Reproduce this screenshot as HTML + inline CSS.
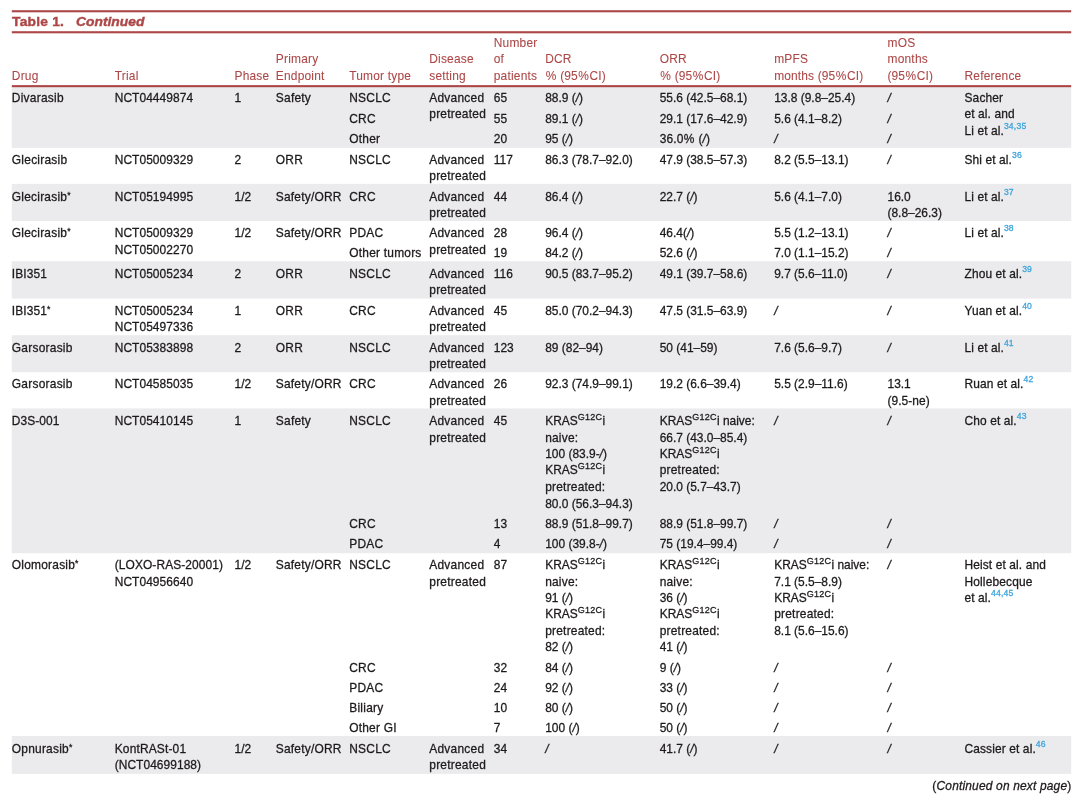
<!DOCTYPE html>
<html lang="en"><head><meta charset="utf-8"><title>Table 1. Continued</title>
<style>
html,body{margin:0;padding:0;background:#fff}
body{width:1080px;height:801px;position:relative;overflow:hidden;font-family:"Liberation Sans",sans-serif;font-size:11.95px;color:#1d1a1b}
svg{position:absolute;left:0;top:0}
.t{position:absolute;white-space:nowrap;line-height:16px;height:16px;-webkit-text-stroke:.28px}
.h{color:#ad4747;-webkit-text-stroke:.08px}
.p{margin:0 .45px}
.a{font-size:8.6px;position:relative;top:-3.3px;line-height:0}
sup{line-height:0;vertical-align:baseline;position:relative}
sup.g{font-size:9px;top:-4.6px;letter-spacing:.3px}
sup.r{font-size:8.6px;top:-5.8px;color:#3ba4dc;letter-spacing:.2px}
.ttl{font-size:13.4px;font-weight:bold;color:#ad4747;transform:scaleX(1.033);transform-origin:0 0;-webkit-text-stroke:.4px}
.ft{right:8.6px;letter-spacing:.18px}

</style></head><body>
<svg width="1080" height="801" viewBox="0 0 1080 801">
<rect x="11.80" y="86.80" width="1059.40" height="61.10" fill="#ebebed"/>
<rect x="11.80" y="183.90" width="1059.40" height="37.10" fill="#ebebed"/>
<rect x="11.80" y="261.20" width="1059.40" height="37.40" fill="#ebebed"/>
<rect x="11.80" y="335.20" width="1059.40" height="37.00" fill="#ebebed"/>
<rect x="11.80" y="408.40" width="1059.40" height="144.80" fill="#ebebed"/>
<rect x="11.80" y="736.00" width="1059.40" height="37.90" fill="#ebebed"/>
<rect x="11.80" y="10.20" width="1059.40" height="2.10" fill="#ad4747"/>
<rect x="11.80" y="31.20" width="1059.40" height="2.10" fill="#ad4747"/>
<rect x="11.80" y="85.10" width="1059.40" height="2.10" fill="#ad4747"/>
</svg>
<div class="t ttl" style="left:11.55px;top:14px;letter-spacing:.2px">Table 1.</div>
<div class="t ttl" style="left:76.45px;top:14px"><i>Continued</i></div>
<div class="t h" style="left:11.85px;top:68px;letter-spacing:0.21px">Drug</div>
<div class="t h" style="left:114.70px;top:68px;letter-spacing:0.21px">Trial</div>
<div class="t h" style="left:234.50px;top:68px;letter-spacing:0.21px">Phase</div>
<div class="t h" style="left:275.80px;top:51px;letter-spacing:0.21px">Primary</div>
<div class="t h" style="left:275.80px;top:68px;letter-spacing:0.21px">Endpoint</div>
<div class="t h" style="left:349.25px;top:68px;letter-spacing:0.19px">Tumor type</div>
<div class="t h" style="left:429.25px;top:51px;letter-spacing:0.21px">Disease</div>
<div class="t h" style="left:429.25px;top:68px;letter-spacing:0.21px">setting</div>
<div class="t h" style="left:493.75px;top:35px;letter-spacing:0.21px">Number</div>
<div class="t h" style="left:493.75px;top:51px;letter-spacing:0.21px">of</div>
<div class="t h" style="left:493.75px;top:68px;letter-spacing:0.21px">patients</div>
<div class="t h" style="left:545.20px;top:51px;letter-spacing:0.21px">DCR</div>
<div class="t h" style="left:545.20px;top:68px;letter-spacing:0.12px"><span class="p">%</span> (95<span class="p">%</span>CI)</div>
<div class="t h" style="left:659.70px;top:51px;letter-spacing:0.21px">ORR</div>
<div class="t h" style="left:659.70px;top:68px;letter-spacing:0.12px"><span class="p">%</span> (95<span class="p">%</span>CI)</div>
<div class="t h" style="left:774.20px;top:51px;letter-spacing:0.21px">mPFS</div>
<div class="t h" style="left:774.20px;top:68px;letter-spacing:0.15px">months (95<span class="p">%</span>CI)</div>
<div class="t h" style="left:887.50px;top:35px;letter-spacing:0.21px">mOS</div>
<div class="t h" style="left:887.50px;top:51px;letter-spacing:0.21px">months</div>
<div class="t h" style="left:887.50px;top:68px;letter-spacing:0.12px">(95<span class="p">%</span>CI)</div>
<div class="t h" style="left:964.50px;top:68px;letter-spacing:0.21px">Reference</div>
<div class="t" style="left:11.85px;top:90px;letter-spacing:0.24px">Divarasib</div>
<div class="t" style="left:114.70px;top:90px;letter-spacing:0.07px">NCT04449874</div>
<div class="t" style="left:234.50px;top:90px">1</div>
<div class="t" style="left:275.80px;top:90px;letter-spacing:0.24px">Safety</div>
<div class="t" style="left:429.25px;top:90px;letter-spacing:0.24px">Advanced</div>
<div class="t" style="left:429.25px;top:106px;letter-spacing:0.24px">pretreated</div>
<div class="t" style="left:349.25px;top:90px;letter-spacing:0.24px">NSCLC</div>
<div class="t" style="left:349.25px;top:111px;letter-spacing:0.24px">CRC</div>
<div class="t" style="left:349.25px;top:131px;letter-spacing:0.24px">Other</div>
<div class="t" style="left:493.75px;top:90px">65</div>
<div class="t" style="left:493.75px;top:111px">55</div>
<div class="t" style="left:493.75px;top:131px">20</div>
<div class="t" style="left:545.20px;top:90px">88.9 (<i>/</i>)</div>
<div class="t" style="left:545.20px;top:111px">89.1 (<i>/</i>)</div>
<div class="t" style="left:545.20px;top:131px">95 (<i>/</i>)</div>
<div class="t" style="left:659.70px;top:90px">55.6 (42.5–68.1)</div>
<div class="t" style="left:659.70px;top:111px">29.1 (17.6–42.9)</div>
<div class="t" style="left:659.70px;top:131px;letter-spacing:0.12px">36.0<span class="p">%</span> (<i>/</i>)</div>
<div class="t" style="left:774.20px;top:90px">13.8 (9.8–25.4)</div>
<div class="t" style="left:774.20px;top:111px">5.6 (4.1–8.2)</div>
<div class="t" style="left:774.20px;top:131px"><i>/</i></div>
<div class="t" style="left:887.50px;top:90px"><i>/</i></div>
<div class="t" style="left:887.50px;top:111px"><i>/</i></div>
<div class="t" style="left:887.50px;top:131px"><i>/</i></div>
<div class="t" style="left:964.50px;top:90px;letter-spacing:0.15px">Sacher</div>
<div class="t" style="left:964.50px;top:106px;letter-spacing:0.11px">et al. and</div>
<div class="t" style="left:964.50px;top:123px;letter-spacing:0.1px">Li et al.<sup class="r">34,35</sup></div>
<div class="t" style="left:11.85px;top:152px;letter-spacing:0.24px">Glecirasib</div>
<div class="t" style="left:114.70px;top:152px;letter-spacing:0.07px">NCT05009329</div>
<div class="t" style="left:234.50px;top:152px">2</div>
<div class="t" style="left:275.80px;top:152px;letter-spacing:0.24px">ORR</div>
<div class="t" style="left:349.25px;top:152px;letter-spacing:0.24px">NSCLC</div>
<div class="t" style="left:429.25px;top:152px;letter-spacing:0.24px">Advanced</div>
<div class="t" style="left:429.25px;top:168px;letter-spacing:0.24px">pretreated</div>
<div class="t" style="left:493.75px;top:152px">117</div>
<div class="t" style="left:545.20px;top:152px">86.3 (78.7–92.0)</div>
<div class="t" style="left:659.70px;top:152px">47.9 (38.5–57.3)</div>
<div class="t" style="left:774.20px;top:152px">8.2 (5.5–13.1)</div>
<div class="t" style="left:887.50px;top:152px"><i>/</i></div>
<div class="t" style="left:964.50px;top:152px;letter-spacing:0.11px">Shi et al.<sup class="r">36</sup></div>
<div class="t" style="left:11.85px;top:189px;letter-spacing:0.22px">Glecirasib<span class="a">*</span></div>
<div class="t" style="left:114.70px;top:189px;letter-spacing:0.07px">NCT05194995</div>
<div class="t" style="left:234.50px;top:189px">1/2</div>
<div class="t" style="left:275.80px;top:189px;letter-spacing:0.22px">Safety/ORR</div>
<div class="t" style="left:349.25px;top:189px;letter-spacing:0.24px">CRC</div>
<div class="t" style="left:429.25px;top:189px;letter-spacing:0.24px">Advanced</div>
<div class="t" style="left:429.25px;top:205px;letter-spacing:0.24px">pretreated</div>
<div class="t" style="left:493.75px;top:189px">44</div>
<div class="t" style="left:545.20px;top:189px">86.4 (<i>/</i>)</div>
<div class="t" style="left:659.70px;top:189px">22.7 (<i>/</i>)</div>
<div class="t" style="left:774.20px;top:189px">5.6 (4.1–7.0)</div>
<div class="t" style="left:887.50px;top:189px">16.0</div>
<div class="t" style="left:887.50px;top:205px">(8.8–26.3)</div>
<div class="t" style="left:964.50px;top:189px;letter-spacing:0.1px">Li et al.<sup class="r">37</sup></div>
<div class="t" style="left:11.85px;top:225px;letter-spacing:0.22px">Glecirasib<span class="a">*</span></div>
<div class="t" style="left:114.70px;top:225px;letter-spacing:0.07px">NCT05009329</div>
<div class="t" style="left:114.70px;top:242px;letter-spacing:0.07px">NCT05002270</div>
<div class="t" style="left:234.50px;top:225px">1/2</div>
<div class="t" style="left:275.80px;top:225px;letter-spacing:0.22px">Safety/ORR</div>
<div class="t" style="left:349.25px;top:225px;letter-spacing:0.24px">PDAC</div>
<div class="t" style="left:429.25px;top:225px;letter-spacing:0.24px">Advanced</div>
<div class="t" style="left:429.25px;top:242px;letter-spacing:0.24px">pretreated</div>
<div class="t" style="left:493.75px;top:225px">28</div>
<div class="t" style="left:545.20px;top:225px">96.4 (<i>/</i>)</div>
<div class="t" style="left:659.70px;top:225px">46.4(<i>/</i>)</div>
<div class="t" style="left:774.20px;top:225px">5.5 (1.2–13.1)</div>
<div class="t" style="left:887.50px;top:225px"><i>/</i></div>
<div class="t" style="left:964.50px;top:225px;letter-spacing:0.1px">Li et al.<sup class="r">38</sup></div>
<div class="t" style="left:349.25px;top:245px;letter-spacing:0.22px">Other tumors</div>
<div class="t" style="left:493.75px;top:245px">19</div>
<div class="t" style="left:545.20px;top:245px">84.2 (<i>/</i>)</div>
<div class="t" style="left:659.70px;top:245px">52.6 (<i>/</i>)</div>
<div class="t" style="left:774.20px;top:245px">7.0 (1.1–15.2)</div>
<div class="t" style="left:887.50px;top:245px"><i>/</i></div>
<div class="t" style="left:11.85px;top:266px;letter-spacing:0.12px">IBI351</div>
<div class="t" style="left:114.70px;top:266px;letter-spacing:0.07px">NCT05005234</div>
<div class="t" style="left:234.50px;top:266px">2</div>
<div class="t" style="left:275.80px;top:266px;letter-spacing:0.24px">ORR</div>
<div class="t" style="left:349.25px;top:266px;letter-spacing:0.24px">NSCLC</div>
<div class="t" style="left:429.25px;top:266px;letter-spacing:0.24px">Advanced</div>
<div class="t" style="left:429.25px;top:282px;letter-spacing:0.24px">pretreated</div>
<div class="t" style="left:493.75px;top:266px">116</div>
<div class="t" style="left:545.20px;top:266px">90.5 (83.7–95.2)</div>
<div class="t" style="left:659.70px;top:266px">49.1 (39.7–58.6)</div>
<div class="t" style="left:774.20px;top:266px">9.7 (5.6–11.0)</div>
<div class="t" style="left:887.50px;top:266px"><i>/</i></div>
<div class="t" style="left:964.50px;top:266px;letter-spacing:0.11px">Zhou et al.<sup class="r">39</sup></div>
<div class="t" style="left:11.85px;top:303px;letter-spacing:0.1px">IBI351<span class="a">*</span></div>
<div class="t" style="left:114.70px;top:303px;letter-spacing:0.07px">NCT05005234</div>
<div class="t" style="left:114.70px;top:319px;letter-spacing:0.07px">NCT05497336</div>
<div class="t" style="left:234.50px;top:303px">1</div>
<div class="t" style="left:275.80px;top:303px;letter-spacing:0.24px">ORR</div>
<div class="t" style="left:349.25px;top:303px;letter-spacing:0.24px">CRC</div>
<div class="t" style="left:429.25px;top:303px;letter-spacing:0.24px">Advanced</div>
<div class="t" style="left:429.25px;top:319px;letter-spacing:0.24px">pretreated</div>
<div class="t" style="left:493.75px;top:303px">45</div>
<div class="t" style="left:545.20px;top:303px">85.0 (70.2–94.3)</div>
<div class="t" style="left:659.70px;top:303px">47.5 (31.5–63.9)</div>
<div class="t" style="left:774.20px;top:303px"><i>/</i></div>
<div class="t" style="left:887.50px;top:303px"><i>/</i></div>
<div class="t" style="left:964.50px;top:303px;letter-spacing:0.11px">Yuan et al.<sup class="r">40</sup></div>
<div class="t" style="left:11.85px;top:340px;letter-spacing:0.24px">Garsorasib</div>
<div class="t" style="left:114.70px;top:340px;letter-spacing:0.07px">NCT05383898</div>
<div class="t" style="left:234.50px;top:340px">2</div>
<div class="t" style="left:275.80px;top:340px;letter-spacing:0.24px">ORR</div>
<div class="t" style="left:349.25px;top:340px;letter-spacing:0.24px">NSCLC</div>
<div class="t" style="left:429.25px;top:340px;letter-spacing:0.24px">Advanced</div>
<div class="t" style="left:429.25px;top:356px;letter-spacing:0.24px">pretreated</div>
<div class="t" style="left:493.75px;top:340px">123</div>
<div class="t" style="left:545.20px;top:340px">89 (82–94)</div>
<div class="t" style="left:659.70px;top:340px">50 (41–59)</div>
<div class="t" style="left:774.20px;top:340px">7.6 (5.6–9.7)</div>
<div class="t" style="left:887.50px;top:340px"><i>/</i></div>
<div class="t" style="left:964.50px;top:340px;letter-spacing:0.1px">Li et al.<sup class="r">41</sup></div>
<div class="t" style="left:11.85px;top:376px;letter-spacing:0.24px">Garsorasib</div>
<div class="t" style="left:114.70px;top:376px;letter-spacing:0.07px">NCT04585035</div>
<div class="t" style="left:234.50px;top:376px">1/2</div>
<div class="t" style="left:275.80px;top:376px;letter-spacing:0.22px">Safety/ORR</div>
<div class="t" style="left:349.25px;top:376px;letter-spacing:0.24px">CRC</div>
<div class="t" style="left:429.25px;top:376px;letter-spacing:0.24px">Advanced</div>
<div class="t" style="left:429.25px;top:393px;letter-spacing:0.24px">pretreated</div>
<div class="t" style="left:493.75px;top:376px">26</div>
<div class="t" style="left:545.20px;top:376px">92.3 (74.9–99.1)</div>
<div class="t" style="left:659.70px;top:376px">19.2 (6.6–39.4)</div>
<div class="t" style="left:774.20px;top:376px">5.5 (2.9–11.6)</div>
<div class="t" style="left:887.50px;top:376px">13.1</div>
<div class="t" style="left:887.50px;top:393px;letter-spacing:0.06px">(9.5-ne)</div>
<div class="t" style="left:964.50px;top:376px;letter-spacing:0.11px">Ruan et al.<sup class="r">42</sup></div>
<div class="t" style="left:11.85px;top:413px;letter-spacing:0.07px">D3S-001</div>
<div class="t" style="left:114.70px;top:413px;letter-spacing:0.07px">NCT05410145</div>
<div class="t" style="left:234.50px;top:413px">1</div>
<div class="t" style="left:275.80px;top:413px;letter-spacing:0.24px">Safety</div>
<div class="t" style="left:429.25px;top:413px;letter-spacing:0.24px">Advanced</div>
<div class="t" style="left:429.25px;top:430px;letter-spacing:0.24px">pretreated</div>
<div class="t" style="left:349.25px;top:413px;letter-spacing:0.24px">NSCLC</div>
<div class="t" style="left:493.75px;top:413px">45</div>
<div class="t" style="left:774.20px;top:413px"><i>/</i></div>
<div class="t" style="left:887.50px;top:413px"><i>/</i></div>
<div class="t" style="left:349.25px;top:516px;letter-spacing:0.24px">CRC</div>
<div class="t" style="left:493.75px;top:516px">13</div>
<div class="t" style="left:545.20px;top:516px">88.9 (51.8–99.7)</div>
<div class="t" style="left:659.70px;top:516px">88.9 (51.8–99.7)</div>
<div class="t" style="left:774.20px;top:516px"><i>/</i></div>
<div class="t" style="left:887.50px;top:516px"><i>/</i></div>
<div class="t" style="left:349.25px;top:536px;letter-spacing:0.24px">PDAC</div>
<div class="t" style="left:493.75px;top:536px">4</div>
<div class="t" style="left:545.20px;top:536px">100 (39.8-<i>/</i>)</div>
<div class="t" style="left:659.70px;top:536px">75 (19.4–99.4)</div>
<div class="t" style="left:774.20px;top:536px"><i>/</i></div>
<div class="t" style="left:887.50px;top:536px"><i>/</i></div>
<div class="t" style="left:545.20px;top:413px">KRAS<sup class="g">G12C</sup>i</div>
<div class="t" style="left:545.20px;top:430px;letter-spacing:0.2px">naive:</div>
<div class="t" style="left:545.20px;top:446px">100 (83.9-<i>/</i>)</div>
<div class="t" style="left:545.20px;top:462px">KRAS<sup class="g">G12C</sup>i</div>
<div class="t" style="left:545.20px;top:479px;letter-spacing:0.22px">pretreated:</div>
<div class="t" style="left:545.20px;top:496px">80.0 (56.3–94.3)</div>
<div class="t" style="left:659.70px;top:413px">KRAS<sup class="g">G12C</sup>i naive:</div>
<div class="t" style="left:659.70px;top:430px">66.7 (43.0–85.4)</div>
<div class="t" style="left:659.70px;top:446px">KRAS<sup class="g">G12C</sup>i</div>
<div class="t" style="left:659.70px;top:462px;letter-spacing:0.22px">pretreated:</div>
<div class="t" style="left:659.70px;top:479px">20.0 (5.7–43.7)</div>
<div class="t" style="left:964.50px;top:413px;letter-spacing:0.11px">Cho et al.<sup class="r">43</sup></div>
<div class="t" style="left:11.85px;top:557px;letter-spacing:0.22px">Olomorasib<span class="a">*</span></div>
<div class="t" style="left:114.70px;top:557px;letter-spacing:0.1px">(LOXO-RAS-20001)</div>
<div class="t" style="left:114.70px;top:574px;letter-spacing:0.07px">NCT04956640</div>
<div class="t" style="left:234.50px;top:557px">1/2</div>
<div class="t" style="left:275.80px;top:557px;letter-spacing:0.22px">Safety/ORR</div>
<div class="t" style="left:429.25px;top:557px;letter-spacing:0.24px">Advanced</div>
<div class="t" style="left:429.25px;top:574px;letter-spacing:0.24px">pretreated</div>
<div class="t" style="left:349.25px;top:557px;letter-spacing:0.24px">NSCLC</div>
<div class="t" style="left:493.75px;top:557px">87</div>
<div class="t" style="left:887.50px;top:557px"><i>/</i></div>
<div class="t" style="left:349.25px;top:660px;letter-spacing:0.24px">CRC</div>
<div class="t" style="left:493.75px;top:660px">32</div>
<div class="t" style="left:545.20px;top:660px">84 (<i>/</i>)</div>
<div class="t" style="left:659.70px;top:660px">9 (<i>/</i>)</div>
<div class="t" style="left:774.20px;top:660px"><i>/</i></div>
<div class="t" style="left:887.50px;top:660px"><i>/</i></div>
<div class="t" style="left:349.25px;top:680px;letter-spacing:0.24px">PDAC</div>
<div class="t" style="left:493.75px;top:680px">24</div>
<div class="t" style="left:545.20px;top:680px">92 (<i>/</i>)</div>
<div class="t" style="left:659.70px;top:680px">33 (<i>/</i>)</div>
<div class="t" style="left:774.20px;top:680px"><i>/</i></div>
<div class="t" style="left:887.50px;top:680px"><i>/</i></div>
<div class="t" style="left:349.25px;top:700px;letter-spacing:0.24px">Biliary</div>
<div class="t" style="left:493.75px;top:700px">10</div>
<div class="t" style="left:545.20px;top:700px">80 (<i>/</i>)</div>
<div class="t" style="left:659.70px;top:700px">50 (<i>/</i>)</div>
<div class="t" style="left:774.20px;top:700px"><i>/</i></div>
<div class="t" style="left:887.50px;top:700px"><i>/</i></div>
<div class="t" style="left:349.25px;top:720px;letter-spacing:0.21px">Other GI</div>
<div class="t" style="left:493.75px;top:720px">7</div>
<div class="t" style="left:545.20px;top:720px">100 (<i>/</i>)</div>
<div class="t" style="left:659.70px;top:720px">50 (<i>/</i>)</div>
<div class="t" style="left:774.20px;top:720px"><i>/</i></div>
<div class="t" style="left:887.50px;top:720px"><i>/</i></div>
<div class="t" style="left:545.20px;top:557px">KRAS<sup class="g">G12C</sup>i</div>
<div class="t" style="left:545.20px;top:574px;letter-spacing:0.2px">naive:</div>
<div class="t" style="left:545.20px;top:590px">91 (<i>/</i>)</div>
<div class="t" style="left:545.20px;top:606px">KRAS<sup class="g">G12C</sup>i</div>
<div class="t" style="left:545.20px;top:623px;letter-spacing:0.22px">pretreated:</div>
<div class="t" style="left:545.20px;top:639px">82 (<i>/</i>)</div>
<div class="t" style="left:659.70px;top:557px">KRAS<sup class="g">G12C</sup>i</div>
<div class="t" style="left:659.70px;top:574px;letter-spacing:0.2px">naive:</div>
<div class="t" style="left:659.70px;top:590px">36 (<i>/</i>)</div>
<div class="t" style="left:659.70px;top:606px">KRAS<sup class="g">G12C</sup>i</div>
<div class="t" style="left:659.70px;top:623px;letter-spacing:0.22px">pretreated:</div>
<div class="t" style="left:659.70px;top:639px">41 (<i>/</i>)</div>
<div class="t" style="left:774.20px;top:557px">KRAS<sup class="g">G12C</sup>i naive:</div>
<div class="t" style="left:774.20px;top:574px">7.1 (5.5–8.9)</div>
<div class="t" style="left:774.20px;top:590px">KRAS<sup class="g">G12C</sup>i</div>
<div class="t" style="left:774.20px;top:606px;letter-spacing:0.22px">pretreated:</div>
<div class="t" style="left:774.20px;top:623px">8.1 (5.6–15.6)</div>
<div class="t" style="left:964.50px;top:557px;letter-spacing:0.11px">Heist et al. and</div>
<div class="t" style="left:964.50px;top:574px;letter-spacing:0.15px">Hollebecque</div>
<div class="t" style="left:964.50px;top:590px;letter-spacing:0.1px">et al.<sup class="r">44,45</sup></div>
<div class="t" style="left:11.85px;top:741px;letter-spacing:0.22px">Opnurasib<span class="a">*</span></div>
<div class="t" style="left:114.70px;top:741px;letter-spacing:0.17px">KontRASt-01</div>
<div class="t" style="left:114.70px;top:757px;letter-spacing:0.06px">(NCT04699188)</div>
<div class="t" style="left:234.50px;top:741px">1/2</div>
<div class="t" style="left:275.80px;top:741px;letter-spacing:0.22px">Safety/ORR</div>
<div class="t" style="left:349.25px;top:741px;letter-spacing:0.24px">NSCLC</div>
<div class="t" style="left:429.25px;top:741px;letter-spacing:0.24px">Advanced</div>
<div class="t" style="left:429.25px;top:757px;letter-spacing:0.24px">pretreated</div>
<div class="t" style="left:493.75px;top:741px">34</div>
<div class="t" style="left:545.20px;top:741px"><i>/</i></div>
<div class="t" style="left:659.70px;top:741px">41.7 (<i>/</i>)</div>
<div class="t" style="left:774.20px;top:741px"><i>/</i></div>
<div class="t" style="left:887.50px;top:741px"><i>/</i></div>
<div class="t" style="left:964.50px;top:741px;letter-spacing:0.12px">Cassier et al.<sup class="r">46</sup></div>
<div class="t ft" style="top:778px">(<i>Continued on next page</i>)</div>
</body></html>
